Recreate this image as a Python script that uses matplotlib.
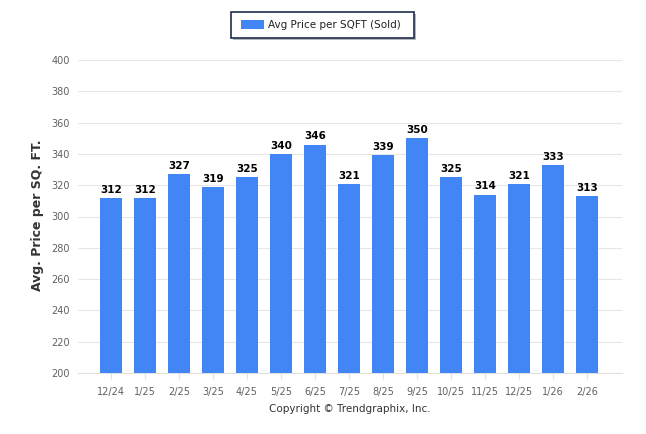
import matplotlib.pyplot as plt
from matplotlib.patches import Rectangle

months = ['12/24', '1/25', '2/25', '3/25', '4/25', '5/25', '6/25', '7/25',
          '8/25', '9/25', '10/25', '11/25', '12/25', '1/26', '2/26']
price = [312, 312, 327, 319, 325, 340, 346, 321, 339, 350, 325, 314, 321, 333, 313]
yticks = list(range(200, 401, 20))

plt.rcParams['font.family'] = ['DejaVu Sans']

fig = plt.figure(figsize=(6.46, 4.34), dpi=100)
ax = fig.add_axes([78 / 646, 1 - 373 / 434, 544 / 646, 313 / 434])

x = list(range(len(months)))
ax.bar(x, price, width=0.62, color='#4285f4', zorder=3)
for xi, v in zip(x, price):
    ax.text(xi, v + 2, str(v), ha='center', va='bottom', fontsize=7.5,
            fontweight='bold', color='#000000', zorder=4)

ax.set_xlim(-0.97, 15.03)
ax.set_ylim(200, 400)
ax.set_yticks(yticks)
ax.set_xticks(x)
ax.set_xticklabels(months)
ax.tick_params(axis='y', length=0, labelsize=7, colors='#606060', pad=6)
ax.tick_params(axis='x', length=4, labelsize=7, colors='#606060', pad=6,
               color='#e0e0e0')
ax.grid(axis='y', color='#e6e6e6', linewidth=0.8, zorder=0)
for s in ['top', 'right', 'left']:
    ax.spines[s].set_visible(False)
ax.spines['bottom'].set_color('#e0e0e0')

fig.text(38 / 646, 1 - 215 / 434, 'Avg. Price per SQ. FT.', rotation=90,
         ha='center', va='center', fontsize=9, fontweight='bold', color='#333333')
fig.text(350 / 646, 1 - 409 / 434, 'Copyright \u00a9 Trendgraphix, Inc.',
         ha='center', va='center', fontsize=7.5, color='#333333')

# legend box with shadow
W, H = 646, 434
fig.patches.append(Rectangle((233 / W, 1 - 40 / H), 183 / W, 26 / H,
                             transform=fig.transFigure, facecolor='#888888',
                             edgecolor='none', alpha=0.6))
fig.patches.append(Rectangle((231 / W, 1 - 38 / H), 183 / W, 26 / H,
                             transform=fig.transFigure, facecolor='white',
                             edgecolor='#1f2f4f', linewidth=1.2))
fig.patches.append(Rectangle((241 / W, 1 - 29 / H), 23 / W, 9 / H,
                             transform=fig.transFigure, facecolor='#4285f4',
                             edgecolor='none'))
fig.text(268 / W, 1 - 25 / H, 'Avg Price per SQFT (Sold)', ha='left',
         va='center', fontsize=7.5, color='#222222')

fig.savefig('out.png', dpi=100)
